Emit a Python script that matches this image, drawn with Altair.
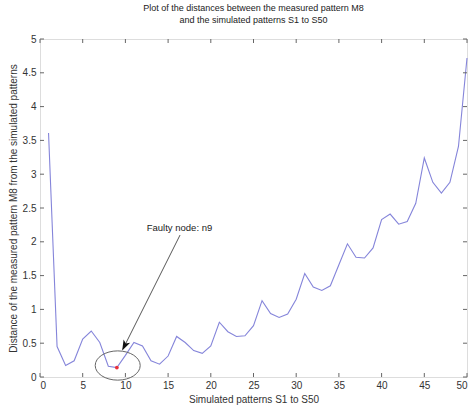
import altair as alt
import pandas as pd

# Distance between measured pattern M8 and each simulated pattern S1..S50
pattern_index = list(range(1, 51))
distance = [
    3.61, 0.45, 0.17, 0.24, 0.56, 0.68, 0.51, 0.16, 0.14, 0.32,
    0.51, 0.46, 0.24, 0.19, 0.31, 0.60, 0.51, 0.39, 0.35, 0.46,
    0.81, 0.67, 0.60, 0.61, 0.76, 1.13, 0.94, 0.88, 0.93, 1.15,
    1.53, 1.33, 1.28, 1.35, 1.66, 1.97, 1.77, 1.76, 1.91, 2.33,
    2.41, 2.26, 2.30, 2.57, 3.24, 2.88, 2.72, 2.88, 3.41, 4.72,
]

x_ticks = list(range(0, 51, 5))
y_ticks = [0, 0.5, 1, 1.5, 2, 2.5, 3, 3.5, 4, 4.5, 5]

faulty_node = 9
label_text = "Faulty node: n9"
label_pos = [12.5, 2.16]
arrow_start = [16.4, 2.10]
arrow_end = [9.7, 0.41]
arrow_head = [9.9, 0.46]
ring_center = [9.1, 0.17]

W, H = 427, 338
FONT = "Liberation Sans"

df = pd.DataFrame({"s": pattern_index, "d": distance})
xs = alt.Scale(domain=[0, 50], nice=False)
ys = alt.Scale(domain=[0, 5], nice=False)

x_axis = alt.Axis(values=x_ticks, title="Simulated patterns S1 to S50", grid=False,
                  ticks=False, domain=False, labelFontSize=10, labelFont=FONT,
                  labelColor="#333", labelPadding=3, labelOverlap=False,
                  titleFont=FONT, titleFontSize=10, titleFontWeight="normal",
                  titleColor="#333", titlePadding=4)
y_axis = alt.Axis(values=y_ticks, format="~g",
                  title="Distance of the measured pattern M8  from the simulated patterns",
                  grid=False, ticks=False, domain=False, labelFontSize=10,
                  labelFont=FONT, labelColor="#333", labelPadding=4,
                  labelOverlap=False, titleFont=FONT, titleFontSize=10,
                  titleFontWeight="normal", titleColor="#333", titlePadding=4)


# every layer shares the same scales and axis settings so the merged axes agree
def X(field):
    return alt.X(field, scale=xs, axis=x_axis)


def Y(field):
    return alt.Y(field, scale=ys, axis=y_axis)


line = alt.Chart(df).mark_line(color="#8585da", strokeWidth=1.1).encode(
    x=X("s:Q"), y=Y("d:Q"))

# inward tick marks on all four sides of the box
xt = pd.DataFrame({"v": x_ticks})
yt = pd.DataFrame({"v": y_ticks})
tick_style = dict(color="#666", strokeWidth=1)
xt_bottom = alt.Chart(xt).mark_rule(**tick_style).encode(
    x=X("v:Q"), y=alt.value(H), y2=alt.value(H - 4))
xt_top = alt.Chart(xt).mark_rule(**tick_style).encode(
    x=X("v:Q"), y=alt.value(0), y2=alt.value(4))
yt_left = alt.Chart(yt).mark_rule(**tick_style).encode(
    y=Y("v:Q"), x=alt.value(0), x2=alt.value(4))
yt_right = alt.Chart(yt).mark_rule(**tick_style).encode(
    y=Y("v:Q"), x=alt.value(W), x2=alt.value(W - 4))

red_pt = alt.Chart(df[df.s == faulty_node]).mark_point(
    filled=True, color="#e8303a", size=14, opacity=1).encode(
    x=X("s:Q"), y=Y("d:Q"))

ann = pd.DataFrame({
    "x": [arrow_start[0]], "y": [arrow_start[1]],
    "x2": [arrow_end[0]], "y2": [arrow_end[1]],
})
arrow = alt.Chart(ann).mark_rule(color="#444", strokeWidth=0.9).encode(
    x=X("x:Q"), y=Y("y:Q"), x2="x2:Q", y2="y2:Q")

head = alt.Chart(pd.DataFrame({"x": [arrow_head[0]], "y": [arrow_head[1]]})).mark_point(
    shape="M 0 -1 L 0.7 1 L 0 0.5 L -0.7 1 Z", filled=True, color="#111",
    size=110, angle=206.6, opacity=1).encode(x=X("x:Q"), y=Y("y:Q"))

ring = alt.Chart(pd.DataFrame({"x": [ring_center[0]], "y": [ring_center[1]]})).mark_point(
    shape="M -1 0 A 1 0.65 0 1 0 1 0 A 1 0.65 0 1 0 -1 0",
    filled=False, color="#666", strokeWidth=1, size=2025, opacity=1).encode(
    x=X("x:Q"), y=Y("y:Q"))

label = alt.Chart(pd.DataFrame({"x": [label_pos[0]], "y": [label_pos[1]], "t": [label_text]})).mark_text(
    align="left", baseline="alphabetic", font=FONT, fontSize=9.5, color="#222").encode(
    x=X("x:Q"), y=Y("y:Q"), text="t:N")

chart = alt.layer(
    line, xt_bottom, xt_top, yt_left, yt_right, ring, arrow, head, red_pt, label
).properties(
    width=W, height=H,
    title=alt.TitleParams(
        ["Plot of the distances between the measured pattern M8",
         "and the simulated patterns S1 to S50"],
        font=FONT, fontSize=9, fontWeight="normal", color="#222",
        anchor="middle", offset=9, lineHeight=12),
    autosize=alt.AutoSizeParams(type="none"),
    padding={"left": 40, "top": 39, "right": 5, "bottom": 31},
).configure_view(stroke="#777", strokeWidth=1).configure(background="white")

chart.save("out.html", embed_options={"renderer": "svg", "actions": False})
